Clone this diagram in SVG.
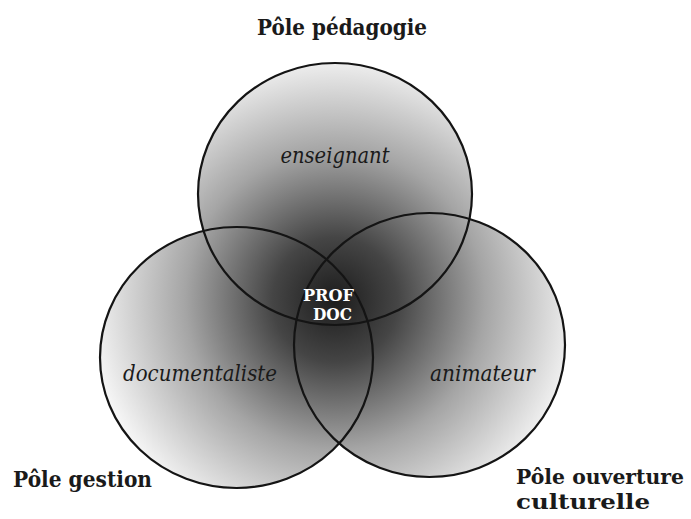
<svg xmlns="http://www.w3.org/2000/svg" width="691" height="519" viewBox="0 0 691 519">
<defs>
<radialGradient id="shade" gradientUnits="userSpaceOnUse" cx="335" cy="300" r="250">
<stop offset="0" stop-color="#1c1c1c"/>
<stop offset="0.25" stop-color="#454545"/>
<stop offset="0.6" stop-color="#a5a5a5"/>
<stop offset="1" stop-color="#f8f8f8"/>
</radialGradient>
</defs>
<style>
.fill{fill:url(#shade);stroke:none}
.ring{fill:none;stroke:#141414;stroke-width:2.2}
.pole{font-family:"DejaVu Serif","Liberation Serif",serif;font-weight:bold;font-size:23px;fill:#1a1a1a}
.pole.narrow{font-size:21px}
.role{font-family:"DejaVu Serif","Liberation Serif",serif;font-style:italic;font-size:22px;fill:#1a1a1a;text-anchor:middle}
.core{font-family:"DejaVu Serif","Liberation Serif",serif;font-weight:bold;font-size:16px;fill:#ffffff;text-anchor:middle}
</style>
<rect width="691" height="519" fill="#ffffff"/>
<g id="fills">
<ellipse class="fill" cx="335" cy="194" rx="137" ry="131"/>
<ellipse class="fill" cx="236.5" cy="357.5" rx="136.5" ry="130.5"/>
<ellipse class="fill" cx="429.5" cy="345" rx="135.5" ry="132"/>
</g>
<g id="node-pedagogie">
<ellipse class="ring" cx="335" cy="194" rx="137" ry="131"/>
<text class="role" x="335" y="163" textLength="109" lengthAdjust="spacingAndGlyphs">enseignant</text>
</g>
<g id="node-gestion">
<ellipse class="ring" cx="236.5" cy="357.5" rx="136.5" ry="130.5"/>
<text class="role" x="200" y="381" textLength="154" lengthAdjust="spacingAndGlyphs">documentaliste</text>
</g>
<g id="node-culture">
<ellipse class="ring" cx="429.5" cy="345" rx="135.5" ry="132"/>
<text class="role" x="482.5" y="381" textLength="105" lengthAdjust="spacingAndGlyphs">animateur</text>
</g>
<g id="node-profdoc">
<text class="core" x="328.5" y="301" textLength="51" lengthAdjust="spacingAndGlyphs">PROF</text>
<text class="core" x="332.5" y="320" textLength="39" lengthAdjust="spacingAndGlyphs">DOC</text>
</g>
<g id="labels">
<text class="pole" x="257" y="35" textLength="170" lengthAdjust="spacingAndGlyphs">Pôle pédagogie</text>
<text class="pole" x="13" y="487" textLength="139" lengthAdjust="spacingAndGlyphs">Pôle gestion</text>
<text class="pole narrow" x="516" y="484" textLength="168" lengthAdjust="spacingAndGlyphs">Pôle ouverture</text>
<text class="pole narrow" x="516" y="509" textLength="134" lengthAdjust="spacingAndGlyphs">culturelle</text>
</g>
<g id="connectors"></g>
</svg>
